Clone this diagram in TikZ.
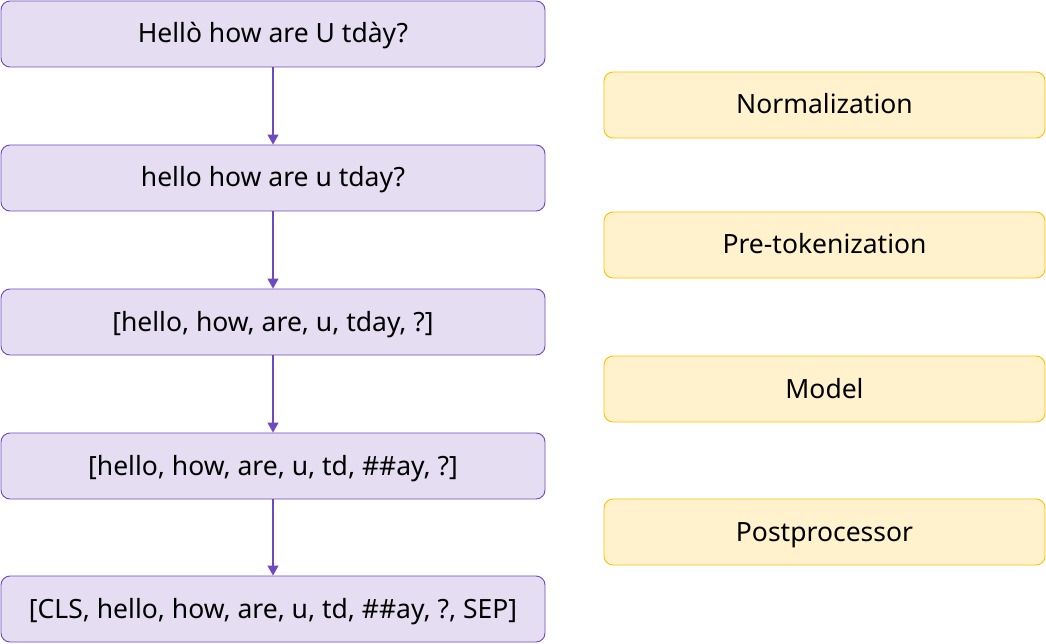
\documentclass[tikz,border=0pt]{standalone}
\usepackage{fontspec}
\setmainfont{Noto Sans}
\usetikzlibrary{arrows.meta}
\definecolor{pfill}{HTML}{E5DEF2}
\definecolor{pline}{HTML}{7048C0}
\definecolor{yfill}{HTML}{FFF2CC}
\definecolor{yline}{HTML}{FFC000}
\tikzset{
  x=1pt,y=-1pt,
  boxtext/.style={inner sep=0pt,text height=25pt,text depth=7pt,font=\fontsize{26.5}{30}\selectfont},
  stage/.style={boxtext,draw=pline,fill=pfill,line width=0.9pt,rounded corners=9pt,minimum width=544pt,minimum height=66pt},
  phase/.style={boxtext,draw=yline,fill=yfill,line width=0.9pt,rounded corners=9pt,minimum width=441pt,minimum height=66pt},
  flow/.style={draw=pline,line width=1.3pt,-{Triangle[length=10pt,width=11pt]}}
}
\begin{document}
\begin{tikzpicture}
\useasboundingbox (0,0) rectangle (1046,644);
\node[stage] (s1) at (273,34) {Hellò how are U tdày?};
\node[stage] (s2) at (273,178) {hello how are u tday?};
\node[stage] (s3) at (273,322) {[hello, how, are, u, tday, ?]};
\node[stage] (s4) at (273,466) {[hello, how, are, u, td, \#\#ay, ?]};
\node[stage] (s5) at (273,609) {[CLS, hello, how, are, u, td, \#\#ay, ?, SEP]};
\node[phase] (p1) at (824.5,105) {Normalization};
\node[phase] (p2) at (824.5,245) {Pre-tokenization};
\node[phase] (p3) at (824.5,389) {Model};
\node[phase] (p4) at (824.5,532) {Postprocessor};
\draw[flow] (s1) -- (s2);
\draw[flow] (s2) -- (s3);
\draw[flow] (s3) -- (s4);
\draw[flow] (s4) -- (s5);
\end{tikzpicture}
\end{document}
